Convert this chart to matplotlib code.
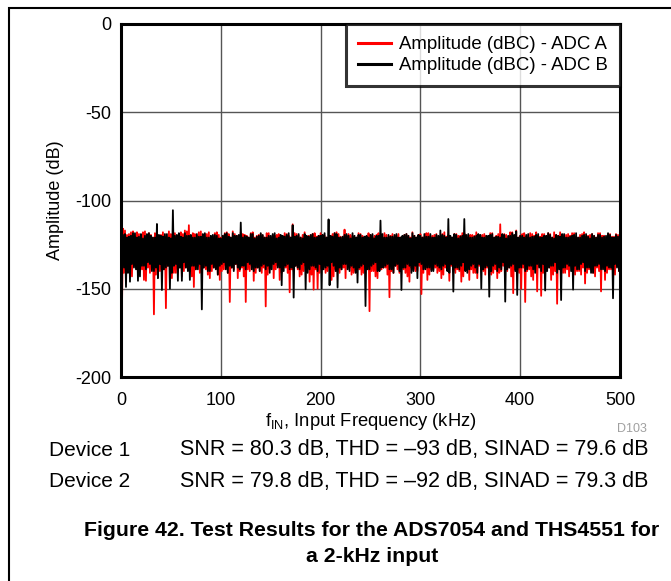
import numpy as np
import matplotlib
matplotlib.use("Agg")
import matplotlib.pyplot as plt
from matplotlib.patches import Rectangle

plt.rcParams['font.family'] = ['Liberation Sans', 'DejaVu Sans']
plt.rcParams['axes.unicode_minus'] = False
plt.rcParams['mathtext.fontset'] = 'custom'
plt.rcParams['mathtext.rm'] = 'Liberation Sans'
plt.rcParams['mathtext.it'] = 'Liberation Sans'

# ---- data (dB values) ----
# ADC A (red): local maxima at 0,4,8,...,500 kHz
adc_a_peak_4k = [
    -100, -117, -119, -117.5, -118, -120, -117.5, -118.5, -121, -118,
    -119.5, -121, -117.5, -119, -120, -118, -117, -114, -118.5, -120,
    -117.5, -119, -118, -120.5, -118, -121, -118.5, -119, -117.5, -120,
    -118, -119.5, -121, -118, -120, -119, -121, -118.5, -120, -119.5,
    -121, -118.5, -120, -113.5, -119, -121, -118, -120, -119, -120.5,
    -118.5, -120, -121, -119, -118, -120.5, -116.5, -119, -120, -121,
    -119, -120.5, -118.5, -121, -119.5, -120, -118.5, -121, -119, -120,
    -121, -119.5, -120, -118, -121, -119, -120.5, -118.5, -120, -119,
    -120.5, -118, -119.5, -121, -119, -120, -118.5, -121, -119.5, -118,
    -120, -119, -121, -118.5, -120, -113.5, -119, -120.5, -118, -117,
    -120, -118.5, -121, -119, -118, -120.5, -119, -118.5, -121, -119.5,
    -118, -120, -119, -118.5, -121, -119.5, -118, -120, -119, -121,
    -118.5, -120, -119, -120.5, -119, -121,
]
# ADC A: local maxima at 2,6,10,...,498 kHz
adc_a_peak_4k2 = [
    -116, -119.5, -118, -120.5, -119, -118, -121, -119.5, -118.5, -120,
    -118, -121, -119, -118.5, -120, -119, -117.5, -120.5, -119, -118,
    -120, -119, -121, -118.5, -119.5, -120, -118, -121, -119, -120.5,
    -119, -120, -118.5, -121, -119.5, -120, -118.5, -121, -120, -119,
    -120.5, -119, -121, -118.5, -120, -119.5, -121, -120, -118.5, -120,
    -119.5, -121, -120, -118.5, -119, -121, -120, -119.5, -121, -118.5,
    -120, -121, -119.5, -120, -118.5, -121, -119.5, -120, -121, -119,
    -120.5, -119, -121, -120, -119.5, -121, -118.5, -120, -119.5, -121,
    -119, -120.5, -121, -119, -120, -118.5, -121, -119.5, -120, -121,
    -119.5, -120, -118.5, -121, -119, -120.5, -119.5, -118, -120, -121,
    -119, -120.5, -118.5, -120, -121, -119, -120.5, -119, -118, -120,
    -121, -119.5, -120, -118.5, -121, -119, -120.5, -119.5, -120, -118.5,
    -120, -121, -119, -120.5, -119.5,
]
# ADC A: local minima at 1,5,9,...,497 kHz
adc_a_dip_4k1 = [
    -160, -138, -140, -137, -142, -139, -145.5, -141, -164.5, -138,
    -140, -161, -137, -141, -139, -143, -138, -140, -149, -137,
    -141, -139, -144, -138, -142, -140, -137, -157.5, -139, -144,
    -138, -157.5, -140, -145.5, -138, -141, -160, -139, -144, -137,
    -141, -138, -152, -140, -139, -142, -137, -146, -150.5, -150,
    -139, -141, -138, -143, -140, -139, -144, -138, -141, -139,
    -142, -138, -162.7, -140, -144, -139, -138, -154.8, -141, -139,
    -138, -141, -146, -139, -140, -153, -138, -142, -139, -141,
    -144, -138, -145.5, -140, -139, -146, -138, -145, -141, -144,
    -139, -142, -138, -141, -144, -140, -139, -138, -152.5, -140,
    -150, -157.5, -139, -145, -151.5, -154, -140, -138, -142, -158.5,
    -139, -141, -143, -138, -140, -142, -147, -139, -141, -138,
    -151.5, -145, -139, -141, -137,
]
# ADC A: local minima at 3,7,11,...,499 kHz
adc_a_dip_4k3 = [
    -141, -139, -143, -136, -140, -145, -138, -137, -142, -140,
    -139, -137, -144, -141, -138, -140, -136, -143, -139, -141,
    -138, -142, -140, -137, -145, -139, -141, -138, -136, -140,
    -143, -139, -137, -141, -140, -138, -142, -136, -139, -145,
    -138, -141, -139, -137, -143, -140, -138, -142, -139, -141,
    -137, -140, -145, -139, -141, -138, -136, -142, -140, -139,
    -141, -137, -140, -143, -139, -138, -142, -140, -137, -141,
    -139, -143, -138, -140, -137, -141, -145, -139, -138, -140,
    -142, -139, -137, -141, -140, -143, -138, -139, -141, -137,
    -140, -138, -142, -139, -141, -137, -140, -143, -139, -141,
    -138, -140, -143, -139, -137, -141, -139, -145, -140, -138,
    -141, -139, -137, -142, -140, -138, -141, -139, -143, -140,
    -138, -141, -139, -142, -140,
]
# ADC B (black): local maxima at 0,4,8,...,500 kHz
adc_b_peak_4k = [
    -118, -119, -120.5, -118.5, -121, -119, -120, -118.5, -121, -113.3,
    -120, -119, -121, -105.5, -119.5, -120.5, -118.5, -120, -121, -119,
    -120.5, -118.5, -121, -119.5, -120, -121.5, -119, -120.5, -118.5, -120,
    -112.5, -120, -121, -119, -120.5, -118.5, -121, -120, -119, -121.5,
    -119.5, -120.5, -118.5, -114, -120, -121, -119, -120.5, -119, -121,
    -120, -118.5, -110.7, -120.5, -119, -121, -119.5, -120, -118.5, -121,
    -119.5, -120.5, -121, -119, -120, -111.4, -121, -119.5, -120.5, -119,
    -121, -119.5, -120, -118.5, -121, -120, -119, -120.5, -121, -119.5,
    -117, -120, -110.5, -121, -119.5, -120.5, -110.5, -119, -121, -120,
    -119.5, -121, -120, -119, -120.5, -121, -119.5, -120, -118.5, -117.5,
    -120, -121, -119, -120.5, -119.5, -121, -120, -118.5, -121, -119.5,
    -120.5, -119, -121, -120, -118.5, -121, -119.5, -120.5, -119, -121,
    -119.5, -120.5, -118.5, -121, -119.5, -120,
]
# ADC B: local maxima at 2,6,10,...,498 kHz
adc_b_peak_4k2 = [
    -119.5, -121, -120, -118.5, -120.5, -121.5, -119, -120, -121, -119.5,
    -120.5, -119, -121.5, -120, -118.5, -121, -120, -119.5, -121, -120.5,
    -119, -121, -120, -119.5, -121.5, -120, -118.5, -121, -120, -119.5,
    -121, -120.5, -119, -121.5, -120, -119.5, -121, -120, -118.5, -121,
    -120, -119.5, -121, -120.5, -119, -121.5, -120, -119.5, -121, -120,
    -119.5, -121, -120, -118.5, -121, -120.5, -119, -121.5, -120, -119.5,
    -121, -120, -119.5, -121.5, -120, -119, -121, -120.5, -119.5, -121,
    -120, -119, -121.5, -120, -119.5, -121, -120.5, -119, -121, -120,
    -119.5, -121, -120, -119, -121.5, -120, -119.5, -121, -120.5, -119,
    -121, -120, -119.5, -121, -120.5, -119, -121.5, -120, -119.5, -121,
    -120, -119.5, -121, -120.5, -119, -121, -120, -119.5, -121.5, -120,
    -119, -121, -120.5, -119.5, -121, -120, -119, -121.5, -120, -119.5,
    -121, -120, -119.5, -121, -120.5,
]
# ADC B: local minima at 1,5,9,...,497 kHz
adc_b_dip_4k1 = [
    -136, -149, -146, -138, -145.5, -137, -139, -136, -140, -144,
    -150.7, -138, -150, -137, -145.5, -145.5, -138, -145, -137, -139,
    -161.7, -137, -140, -138, -142, -136, -139, -137, -140, -138,
    -137, -139, -136, -140, -138, -137, -139, -141, -136, -138,
    -148, -137, -139, -155, -138, -136, -150.3, -139, -137, -140,
    -150, -138, -148, -137, -149.3, -139, -136, -140, -138, -146.5,
    -137, -159.8, -139, -136, -140, -138, -137, -139, -141, -136,
    -150.7, -138, -137, -140, -144, -136, -139, -138, -140, -137,
    -139, -136, -141, -151.6, -138, -137, -140, -139, -136, -141,
    -149.8, -138, -154.5, -137, -140, -139, -157.3, -138, -136, -153.5,
    -138, -140, -137, -139, -136, -140, -151, -138, -137, -141,
    -156.4, -138, -137, -150.5, -139, -136, -140, -138, -141, -137,
    -139, -140, -138, -155.4, -138,
]
# ADC B: local minima at 3,7,11,...,499 kHz
adc_b_dip_4k3 = [
    -138, -141, -136, -139, -143, -137, -135, -140, -138, -136,
    -139, -137, -141, -136, -138, -135, -140, -137, -139, -136,
    -138, -140, -136, -139, -137, -135, -141, -138, -136, -139,
    -137, -135, -139, -138, -140, -136, -137, -139, -135, -138,
    -140, -136, -138, -137, -139, -135, -141, -137, -138, -136,
    -139, -137, -135, -140, -138, -136, -139, -137, -141, -138,
    -136, -139, -137, -135, -140, -138, -136, -139, -137, -140,
    -138, -136, -141, -137, -135, -139, -138, -140, -136, -138,
    -137, -140, -136, -138, -139, -135, -141, -137, -138, -136,
    -139, -137, -140, -136, -138, -135, -139, -137, -140, -138,
    -136, -139, -137, -141, -138, -136, -140, -137, -135, -139,
    -138, -136, -140, -137, -139, -135, -138, -141, -137, -136,
    -139, -137, -138, -136, -140,
]
freq_khz = np.arange(0, 501, 1)  # FFT bin frequencies

series_labels = ['Amplitude (dBC) - ADC A', 'Amplitude (dBC) - ADC B']
x_ticks = [0, 100, 200, 300, 400, 500]
y_ticks = [0, -50, -100, -150, -200]
device_lines = [
    ('Device 1', 'SNR = 80.3 dB, THD = \u201393 dB, SINAD = 79.6 dB'),
    ('Device 2', 'SNR = 79.8 dB, THD = \u201392 dB, SINAD = 79.3 dB'),
]


def interleave(first, second):
    v = np.empty(len(first) + len(second))
    v[0::2] = first
    v[1::2] = second
    return v


amp_a = interleave(interleave(adc_a_peak_4k, adc_a_peak_4k2),
                   interleave(adc_a_dip_4k1, adc_a_dip_4k3))
amp_b = interleave(interleave(adc_b_peak_4k, adc_b_peak_4k2),
                   interleave(adc_b_dip_4k1, adc_b_dip_4k3))

fig = plt.figure(figsize=(6.71, 5.81), dpi=100)
ax = fig.add_axes([121 / 671, 204 / 581, 499 / 671, 353 / 581])

ax.plot(freq_khz, amp_a, color='#ff0000', lw=1.3, label=series_labels[0], zorder=3)
ax.plot(freq_khz, amp_b, color='#000000', lw=1.3, label=series_labels[1], zorder=4)

ax.set_xlim(0, 500)
ax.set_ylim(-200, 0)
ax.set_xticks(x_ticks)
ax.set_yticks(y_ticks)
ax.tick_params(length=0, labelsize=13, colors='black')
ax.tick_params(axis='x', pad=11)
ax.tick_params(axis='y', pad=7)
ax.grid(True, color='#555555', lw=1.0, zorder=1)
ax.set_axisbelow(True)
for s in ax.spines.values():
    s.set_linewidth(2.2)
    s.set_zorder(6)

ax.set_xlabel(r'f$_{\mathrm{IN}}$, Input Frequency (kHz)', fontsize=13.2, labelpad=1)
ax.set_ylabel('Amplitude (dB)', fontsize=13, labelpad=8)

leg = ax.legend(loc='upper right', fontsize=13.4, frameon=True, fancybox=False,
                borderaxespad=0, handlelength=1.8, handletextpad=0.42,
                labelspacing=0.22, borderpad=0.65)
leg.get_frame().set_edgecolor('black')
leg.get_frame().set_linewidth(2.2)
leg.set_zorder(7)
for line in leg.get_lines():
    line.set_linewidth(2.2)

fig.text(647 / 671, 1 - 429 / 581, 'D103', fontsize=9, color='#a0a0a0', ha='right', va='center')

for i, (dev, stats) in enumerate(device_lines):
    y = 1 - (450 + 31.5 * i) / 581
    fig.text(49 / 671, y, dev, fontsize=15, ha='left', va='center')
    fig.text(180 / 671, y, stats, fontsize=15.5, ha='left', va='center')

fig.text(372 / 671, 1 - 530 / 581, 'Figure 42. Test Results for the ADS7054 and THS4551 for',
         fontsize=15.3, fontweight='bold', ha='center', va='center')
fig.text(372 / 671, 1 - 556 / 581, 'a 2-kHz input',
         fontsize=15.3, fontweight='bold', ha='center', va='center')

fig.patches.append(Rectangle((8.5 / 671, -0.2), 1.2, 1.2 - 7.5 / 581,
                             transform=fig.transFigure, fill=False, lw=1.5,
                             edgecolor='black'))

fig.savefig('out.png', dpi=100)
